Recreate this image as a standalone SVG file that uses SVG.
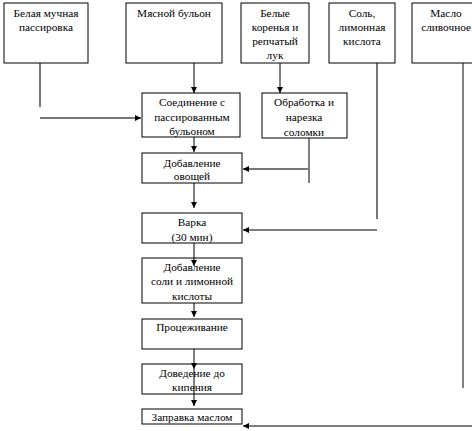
<svg xmlns="http://www.w3.org/2000/svg" width="472" height="431" viewBox="0 0 472 431">
<style>
.box{fill:#fff;stroke:#000;stroke-width:1}
text{font-family:'Liberation Serif','Times New Roman',serif;font-size:11.3px;fill:#000;text-anchor:middle}
.ln{stroke:#000;stroke-width:1;fill:none}
.gl{stroke:#777;stroke-width:2;fill:none}
</style>
<defs>
<marker id="ah" viewBox="0 0 10 10" refX="10" refY="5" markerWidth="6" markerHeight="6" markerUnits="userSpaceOnUse" orient="auto">
<path d="M0,0 L10,5 L0,10 z" fill="#000"/>
</marker>
</defs>
<rect width="472" height="431" fill="#fff"/>
<g id="connectors">
<line class="gl" x1="40" y1="63" x2="40" y2="107"/>
<line class="gl" x1="40" y1="118" x2="141" y2="118" marker-end="url(#ah)"/>
<line class="ln" x1="194" y1="63" x2="194" y2="93" marker-end="url(#ah)"/>
<line class="ln" x1="280" y1="63" x2="280" y2="93" marker-end="url(#ah)"/>
<line class="ln" x1="194" y1="137" x2="194" y2="152" marker-end="url(#ah)"/>
<line class="ln" x1="309" y1="138" x2="309" y2="183"/>
<line class="gl" x1="309" y1="169" x2="243" y2="169" marker-end="url(#ah)"/>
<line class="gl" x1="377" y1="63" x2="377" y2="219"/>
<line class="ln" x1="377" y1="230" x2="243" y2="230" marker-end="url(#ah)"/>
<line class="ln" x1="194" y1="183" x2="194" y2="208" marker-end="url(#ah)"/>
<line class="ln" x1="463" y1="63" x2="463" y2="388"/>
<line class="ln" x1="472" y1="426" x2="243" y2="426" marker-end="url(#ah)"/>
</g>
<g id="n1"><rect class="box" x="4" y="3" width="84" height="60"/><text x="46" y="17">Белая мучная</text><text x="46" y="31">пассировка</text></g>
<g id="n2"><rect class="box" x="126" y="3" width="96" height="60"/><text x="174" y="17">Мясной бульон</text></g>
<g id="n3"><rect class="box" x="241" y="3" width="68" height="60"/><text x="275" y="17">Белые</text><text x="275" y="31">коренья и</text><text x="275" y="45">репчатый</text><text x="275" y="59">лук</text></g>
<g id="n4"><rect class="box" x="329" y="3" width="66" height="60"/><text x="362" y="17">Соль,</text><text x="362" y="31">лимонная</text><text x="362" y="45">кислота</text></g>
<g id="n5"><rect class="box" x="412" y="3" width="70" height="60"/><text x="446" y="17">Масло</text><text x="471" y="31" style="text-anchor:end">сливочное</text></g>
<g id="n6"><rect class="box" x="142" y="93" width="98" height="44"/><text x="192" y="106">Соединение с</text><text x="192" y="121">пассированным</text><text x="192" y="135">бульоном</text></g>
<g id="n7"><rect class="box" x="262" y="93" width="85" height="45"/><text x="304" y="106">Обработка и</text><text x="304" y="121">нарезка</text><text x="304" y="136">соломки</text></g>
<g id="n8"><rect class="box" x="142" y="153" width="100" height="30"/><text x="192" y="167">Добавление</text><text x="192" y="180">овощей</text></g>
<g id="n9"><rect class="box" x="142" y="213" width="100" height="30"/><text x="192" y="226">Варка</text><text x="192" y="241">(30 мин)</text></g>
<g id="n10"><rect class="box" x="142" y="258" width="100" height="45"/><text x="192" y="271">Добавление</text><text x="192" y="285">соли и лимонной</text><text x="192" y="300">кислоты</text></g>
<g id="n11"><rect class="box" x="142" y="319" width="100" height="30"/><text x="192" y="331">Процеживание</text></g>
<g id="n12"><rect class="box" x="142" y="364" width="100" height="30"/><text x="192" y="377">Доведение до</text><text x="192" y="391">кипения</text></g>
<g id="n13"><rect class="box" x="142" y="409" width="100" height="15"/><text x="192" y="421">Заправка маслом</text></g>
<g id="connectors-front">
<line class="ln" x1="194" y1="243" x2="194" y2="266" marker-end="url(#ah)"/>
<line class="ln" x1="194" y1="303" x2="194" y2="317" marker-end="url(#ah)"/>
<line class="ln" x1="194" y1="349" x2="194" y2="369" marker-end="url(#ah)"/>
<line class="ln" x1="194" y1="369" x2="194" y2="406" marker-end="url(#ah)"/>
</g>
</svg>
